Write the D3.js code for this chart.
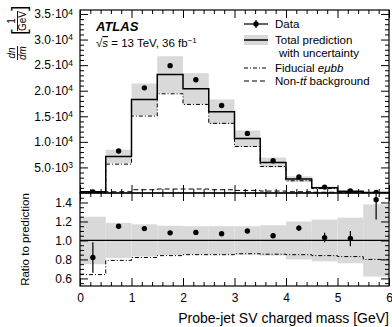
<!DOCTYPE html>
<html lang="en">
<head>
<meta charset="UTF-8">
<title>SV charged mass</title>
<style>
  body { margin: 0; background: #fff; }
  svg { font-family: "Liberation Sans", Arial, sans-serif; }
  .domain { display: none; }
</style>
</head>
<body>
<script src="https://cdn.jsdelivr.net/npm/d3@7"></script>
<script>
// bins of 0.5 GeV from 0 to 6
const binEdges = [0, 0.5, 1, 1.5, 2, 2.5, 3, 3.5, 4, 4.5, 5, 5.5, 6];
const total    = [250, 7140, 18290, 23150, 20370, 15900, 10640, 5970, 2720, 1030, 330, 90];
const dataVal  = [200, 8200, 20560, 24900, 22150, 17100, 11650, 6300, 3150, 1150, 400, 130];
const fiducial = [160, 5640, 15040, 19400, 17320, 13620, 9090, 5190, 2390, 870, 280, 75];
const nonTT    = [120, 250, 640, 780, 780, 640, 500, 380, 250, 150, 80, 40];
// ratio panel
const ratioData = [0.82, 1.15, 1.125, 1.08, 1.085, 1.07, 1.10, 1.05, 1.13, 1.03, 1.02, 1.43];
const ratioErr  = [0.16, 0.02, 0.02, 0.015, 0.015, 0.015, 0.02, 0.02, 0.03, 0.05, 0.08, 0.21];
const uncHi     = [1.25, 1.185, 1.17, 1.155, 1.15, 1.15, 1.15, 1.16, 1.20, 1.22, 1.24, 1.38];
const uncLo     = [0.75, 0.815, 0.83, 0.845, 0.85, 0.85, 0.85, 0.84, 0.80, 0.78, 0.76, 0.62];
const ratioFid  = [0.64, 0.79, 0.82, 0.84, 0.85, 0.85, 0.86, 0.855, 0.85, 0.84, 0.83, 0.80];
const topTicks  = [5000, 10000, 15000, 20000, 25000, 30000, 35000];
const topTickLabels = ["5.0·10|3", "1.0·10|4", "1.5·10|4", "2.0·10|4", "2.5·10|4", "3.0·10|4", "3.5·10|4"];
const ratioTicks = [0.6, 0.8, 1.0, 1.2, 1.4];

const W = 392, H = 327;
const L = 80, R = 389, T = 10, MID = 193, B = 286;

const svg = d3.select("body").append("svg").attr("width", W).attr("height", H);

const x = d3.scaleLinear().domain([0, 6]).range([L, R]);
const y = d3.scaleLinear().domain([0, 35780]).range([MID, T]);
const yr = d3.scaleLinear().domain([0.52, 1.5]).range([B, MID]);

const bins = total.map((t, i) => ({ i, x0: binEdges[i], x1: binEdges[i + 1], xc: (binEdges[i] + binEdges[i + 1]) / 2 }));
const grey = "#d9d9d9";

// clip regions
const defs = svg.append("defs");
defs.append("clipPath").attr("id", "clipTop").append("rect").attr("x", L).attr("y", T).attr("width", R - L).attr("height", MID - T);
defs.append("clipPath").attr("id", "clipBot").append("rect").attr("x", L).attr("y", MID).attr("width", R - L).attr("height", B - MID);

// step path helper
function stepLine(vals, ys) {
  let p = "";
  vals.forEach((v, i) => {
    const xa = x(binEdges[i]), xb = x(binEdges[i + 1]), yy = ys(v);
    p += (i === 0 ? "M" : "L") + xa + "," + yy + "L" + xb + "," + yy;
  });
  return p;
}

// ---- top panel
const upper = svg.append("g").attr("clip-path", "url(#clipTop)");
upper.selectAll("rect.band").data(bins).join("rect")
  .attr("x", d => x(d.x0)).attr("width", d => x(d.x1) - x(d.x0))
  .attr("y", d => y(total[d.i] * uncHi[d.i]))
  .attr("height", d => y(total[d.i] * uncLo[d.i]) - y(total[d.i] * uncHi[d.i]))
  .attr("fill", grey);
upper.append("path").attr("d", stepLine(nonTT, y)).attr("fill", "none").attr("stroke", "#000").attr("stroke-width", 1).attr("stroke-dasharray", "5,3");
upper.append("path").attr("d", stepLine(fiducial, y)).attr("fill", "none").attr("stroke", "#000").attr("stroke-width", 1).attr("stroke-dasharray", "4,2,1,2");
upper.append("path").attr("d", "M" + x(0) + "," + y(0) + "L" + stepLine(total, y).slice(1) + "L" + x(6) + "," + y(0))
  .attr("fill", "none").attr("stroke", "#000").attr("stroke-width", 1.5);
upper.selectAll("circle.dat").data(bins).join("circle")
  .attr("cx", d => x(d.xc)).attr("cy", d => y(dataVal[d.i])).attr("r", 2.7).attr("fill", "#000");

// ---- ratio panel
const lower = svg.append("g").attr("clip-path", "url(#clipBot)");
lower.selectAll("rect.band").data(bins).join("rect")
  .attr("x", d => x(d.x0)).attr("width", d => x(d.x1) - x(d.x0))
  .attr("y", d => yr(uncHi[d.i])).attr("height", d => yr(uncLo[d.i]) - yr(uncHi[d.i]))
  .attr("fill", grey);
lower.append("path").attr("d", stepLine(ratioFid, yr)).attr("fill", "none").attr("stroke", "#000").attr("stroke-width", 1).attr("stroke-dasharray", "4,2,1,2");
lower.append("line").attr("x1", L).attr("x2", R).attr("y1", yr(1)).attr("y2", yr(1)).attr("stroke", "#000").attr("stroke-width", 1.3);
lower.selectAll("line.err").data(bins).join("line")
  .attr("x1", d => x(d.xc)).attr("x2", d => x(d.xc))
  .attr("y1", d => yr(ratioData[d.i] + ratioErr[d.i])).attr("y2", d => yr(ratioData[d.i] - ratioErr[d.i]))
  .attr("stroke", "#000").attr("stroke-width", 1.2);
lower.selectAll("circle.dat").data(bins).join("circle")
  .attr("cx", d => x(d.xc)).attr("cy", d => yr(ratioData[d.i])).attr("r", 2.7).attr("fill", "#000");

// ---- frames and ticks (inward, ATLAS style)
function frame(y0, y1) {
  svg.append("rect").attr("x", L).attr("y", y0).attr("width", R - L).attr("height", y1 - y0)
    .attr("fill", "none").attr("stroke", "#000").attr("stroke-width", 1.2);
}
frame(T, MID);
frame(MID, B);

const xMajor = d3.range(0, 7, 1);
const xMinor = d3.range(0, 6.01, 0.2).filter(v => Math.abs(v - Math.round(v)) > 1e-6);

function xTicks(yPos, dir) {
  svg.append("g").attr("transform", `translate(0,${yPos})`)
    .call(d3.axisBottom(x).tickValues(xMajor).tickSize(dir * 8).tickFormat(""));
  svg.append("g").attr("transform", `translate(0,${yPos})`)
    .call(d3.axisBottom(x).tickValues(xMinor).tickSize(dir * 4).tickFormat(""));
}
xTicks(T, 1);
xTicks(MID, -1);
xTicks(MID, 1);
xTicks(B, -1);

// x labels
svg.append("g").attr("transform", `translate(0,${B})`)
  .call(d3.axisBottom(x).tickValues(xMajor).tickSize(0).tickPadding(7).tickFormat(d3.format("d")))
  .selectAll("text").attr("font-size", 12).attr("fill", "#000");

// y ticks
const yMinor = d3.range(1000, 35001, 1000).filter(v => v % 5000 !== 0);
function yTicks(scale, major, minor, pos, dir) {
  const ax = dir > 0 ? d3.axisRight : d3.axisLeft;
  svg.append("g").attr("transform", `translate(${pos},0)`)
    .call(ax(scale).tickValues(major).tickSize(-8).tickFormat(""));
  svg.append("g").attr("transform", `translate(${pos},0)`)
    .call(ax(scale).tickValues(minor).tickSize(-4).tickFormat(""));
}
yTicks(y, topTicks, yMinor, L, -1);
yTicks(y, topTicks, yMinor, R, 1);
const rMinor = d3.range(0.55, 1.5, 0.05).filter(v => Math.abs(v * 5 - Math.round(v * 5)) > 1e-6);
yTicks(yr, ratioTicks, rMinor, L, -1);
yTicks(yr, ratioTicks, rMinor, R, 1);

// y labels top with superscripts
const yl = svg.append("g").attr("transform", `translate(${L},0)`)
  .call(d3.axisLeft(y).tickValues(topTicks).tickSize(0).tickPadding(7).tickFormat((d, i) => topTickLabels[i]));
yl.selectAll("text").each(function () {
  const t = d3.select(this);
  const [base, exp] = t.text().split("|");
  t.text(null).attr("font-size", 12).attr("fill", "#000");
  t.append("tspan").text(base);
  t.append("tspan").attr("dy", "-0.45em").attr("font-size", 8.5).text(exp);
});
svg.append("g").attr("transform", `translate(${L},0)`)
  .call(d3.axisLeft(yr).tickValues(ratioTicks).tickSize(0).tickPadding(8).tickFormat(d3.format(".1f")))
  .selectAll("text").attr("font-size", 12).attr("fill", "#000");

// axis titles
svg.append("text").attr("x", R).attr("y", 323).attr("text-anchor", "end")
  .attr("font-size", 14).text("Probe-jet SV charged mass [GeV]");
svg.append("text").attr("transform", `translate(29,${(MID + B) / 2}) rotate(-90)`)
  .attr("text-anchor", "middle").attr("font-size", 11.5).text("Ratio to prediction");

// dn/dm [1/GeV]
const yt = svg.append("g").attr("transform", "translate(17,10) rotate(-90)");
function frac(g, cx, num, den, italic) {
  g.append("text").attr("x", cx).attr("y", -2).attr("text-anchor", "middle").attr("font-size", 10)
    .attr("font-style", italic ? "italic" : null).text(num);
  g.append("text").attr("x", cx).attr("y", 8.5).attr("text-anchor", "middle").attr("font-size", 10)
    .attr("font-style", italic ? "italic" : null).text(den);
  const w = italic ? 14 : 20;
  g.append("line").attr("x1", cx - w / 2).attr("x2", cx + w / 2).attr("y1", 0.5).attr("y2", 0.5).attr("stroke", "#000").attr("stroke-width", 0.9);
}
frac(yt, -43, "dn", "dm", true);
frac(yt, -11, "1", "GeV", false);
yt.append("text").attr("x", -25).attr("y", 9).attr("font-size", 20).attr("font-weight", 300).text("[");
yt.append("text").attr("x", -1).attr("y", 9).attr("font-size", 20).attr("font-weight", 300).text("]");

// ATLAS label
svg.append("text").attr("x", 96).attr("y", 31).attr("font-size", 13).attr("font-weight", "bold").attr("font-style", "italic").text("ATLAS");
const lab = svg.append("text").attr("x", 96).attr("y", 47).attr("font-size", 11.5);
lab.append("tspan").text("√");
lab.append("tspan").attr("font-style", "italic").attr("text-decoration", "overline").text("s");
lab.append("tspan").text(" = 13 TeV, 36 fb");
lab.append("tspan").attr("dy", "-0.45em").attr("font-size", 8).text("−1");

// legend
const lx0 = 244, lx1 = 268, ltx = 275;
const lg = svg.append("g");
lg.append("line").attr("x1", lx0).attr("x2", lx1).attr("y1", 24).attr("y2", 24).attr("stroke", "#000").attr("stroke-width", 1.2);
lg.append("line").attr("x1", (lx0 + lx1) / 2).attr("x2", (lx0 + lx1) / 2).attr("y1", 20).attr("y2", 28).attr("stroke", "#000").attr("stroke-width", 1.2);
lg.append("circle").attr("cx", (lx0 + lx1) / 2).attr("cy", 24).attr("r", 2.7);
lg.append("rect").attr("x", lx0).attr("y", 35).attr("width", lx1 - lx0).attr("height", 10).attr("fill", grey);
lg.append("line").attr("x1", lx0).attr("x2", lx1).attr("y1", 40).attr("y2", 40).attr("stroke", "#000").attr("stroke-width", 1.5);
lg.append("line").attr("x1", lx0).attr("x2", lx1).attr("y1", 68).attr("y2", 68).attr("stroke", "#000").attr("stroke-dasharray", "4,2,1,2");
lg.append("line").attr("x1", lx0).attr("x2", lx1).attr("y1", 81).attr("y2", 81).attr("stroke", "#000").attr("stroke-dasharray", "5,3");
const lt = yy => lg.append("text").attr("x", ltx).attr("y", yy).attr("font-size", 11.5).attr("dominant-baseline", "central");
lt(24).text("Data");
lt(40).text("Total prediction");
lg.append("text").attr("x", ltx + 4).attr("y", 53).attr("font-size", 11.5).attr("dominant-baseline", "central").text("with uncertainty");
const f = lt(68);
f.append("tspan").text("Fiducial ");
f.append("tspan").attr("font-style", "italic").text("eμbb");
const n = lt(81);
n.append("tspan").text("Non-");
n.append("tspan").attr("font-style", "italic").text("tt̄");
n.append("tspan").text(" background");
</script>
</body>
</html>
